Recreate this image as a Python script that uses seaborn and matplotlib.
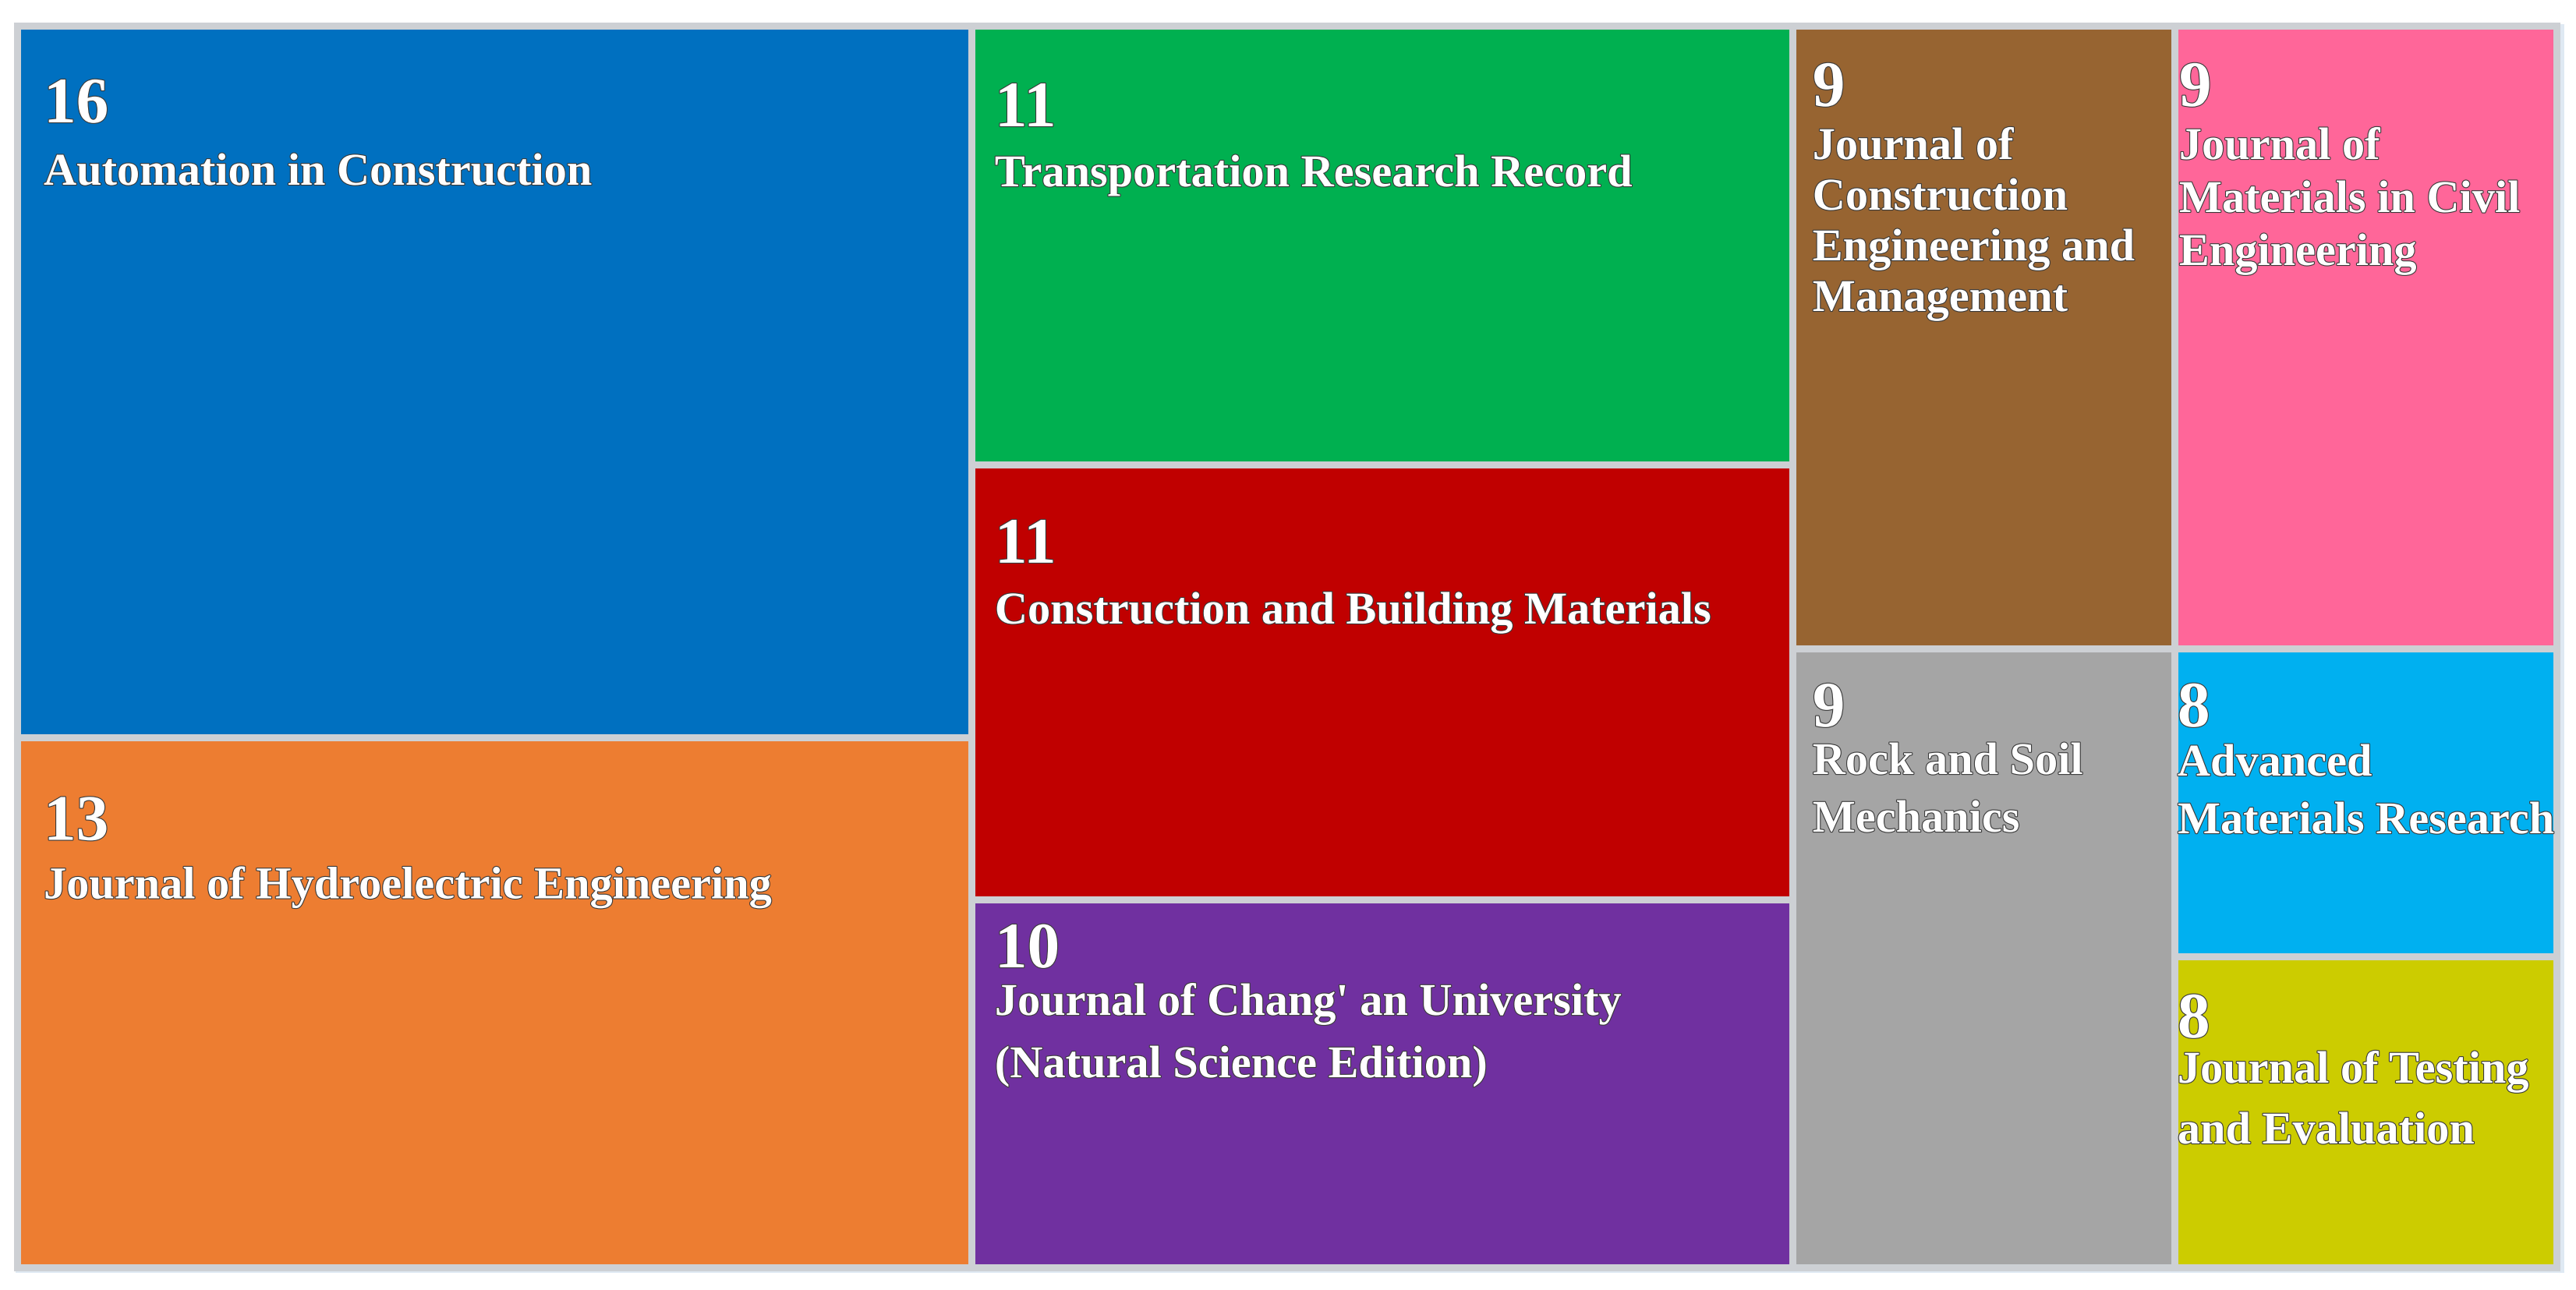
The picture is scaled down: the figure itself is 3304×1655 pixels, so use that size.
import numpy as np
import pandas as pd
import matplotlib.pyplot as plt
import matplotlib.patheffects as pe
from matplotlib.patches import Rectangle
import seaborn as sns

# Data
journals = [
    "Automation in Construction",
    "Journal of Hydroelectric Engineering",
    "Transportation Research Record",
    "Construction and Building Materials",
    "Journal of Chang' an University\n(Natural Science Edition)",
    "Journal of\nConstruction\nEngineering and\nManagement",
    "Rock and Soil\nMechanics",
    "Journal of\nMaterials in Civil\nEngineering",
    "Advanced\nMaterials Research",
    "Journal of Testing\nand Evaluation",
]
paper_counts = [16, 13, 11, 11, 10, 9, 9, 9, 8, 8]
# relative tile areas as drawn in the picture (they are not proportional to the counts)
tile_areas = [22.41, 16.67, 11.88, 11.78, 9.96, 7.85, 7.80, 7.85, 3.88, 3.92]
tile_columns = [0, 0, 1, 1, 1, 2, 2, 3, 3, 3]
tile_colors = ["#0070C0", "#ED7D31", "#00B050", "#C00000", "#7030A0",
               "#976431", "#A5A5A5", "#FF6699", "#00B0F0", "#CCCC00"]

# text placement inside each tile (px): left pad, number top, label top, line gap
text_layout = [
    (34, 67, 164, 76),
    (34, 74, 166, 76),
    (30, 72, 166, 76),
    (30, 69, 164, 76),
    (30, 30, 108, 80),
    (26, 46, 131, 65),
    (26, 43, 121, 74),
    (6, 46, 131, 68),
    (4, 43, 123, 74),
    (4, 47, 122, 78),
]

sns.set_theme(style="white")
plt.rcParams["font.family"] = ["Liberation Serif", "DejaVu Serif"]

df = pd.DataFrame({
    "journal": journals,
    "count": paper_counts,
    "area": tile_areas,
    "column": tile_columns,
    "color": tile_colors,
})

W, H = 3305, 1656
X0, X1, Y0, Y1 = 22, 3279, 34, 1627

# slice-and-dice layout: columns share the width, tiles share the column height
col_tot = df.groupby("column")["area"].sum()
col_w = col_tot / col_tot.sum() * (X1 - X0)
col_x = X0 + col_w.cumsum() - col_w
df["x"] = df["column"].map(col_x)
df["w"] = df["column"].map(col_w)
df["h"] = df["area"] / df["column"].map(col_tot) * (Y1 - Y0)
df["y"] = Y0 + df.groupby("column")["h"].cumsum() - df["h"]

fig = plt.figure(figsize=(W / 100, H / 100), dpi=100)
ax = fig.add_axes([0, 0, 1, 1])
ax.set_xlim(0, W)
ax.set_ylim(H, 0)
ax.axis("off")

# pale frame / shadow behind the treemap
ax.add_patch(Rectangle((X0 - 2, Y0 - 2), X1 - X0 + 12, Y1 - Y0 + 9,
                       facecolor="#dfe9f3", edgecolor="none", zorder=0))

outline = [pe.withStroke(linewidth=1.6, foreground="#3a3a3a")]

for i, row in df.iterrows():
    ax.add_patch(Rectangle((row["x"], row["y"]), row["w"], row["h"],
                           facecolor=row["color"], edgecolor="#cdd0d4",
                           linewidth=6.5, zorder=1))
    dx, dy_num, dy_lab, gap = text_layout[i]
    ax.text(row["x"] + dx, row["y"] + dy_num, str(row["count"]),
            ha="left", va="top", fontsize=60, fontweight="bold",
            color="white", path_effects=outline, zorder=3)
    for k, line in enumerate(row["journal"].split("\n")):
        ax.text(row["x"] + dx, row["y"] + dy_lab + k * gap, line,
                ha="left", va="top", fontsize=42, fontweight="bold",
                color="white", path_effects=outline, zorder=3)

fig.savefig("out.png", dpi=100, facecolor="white")
